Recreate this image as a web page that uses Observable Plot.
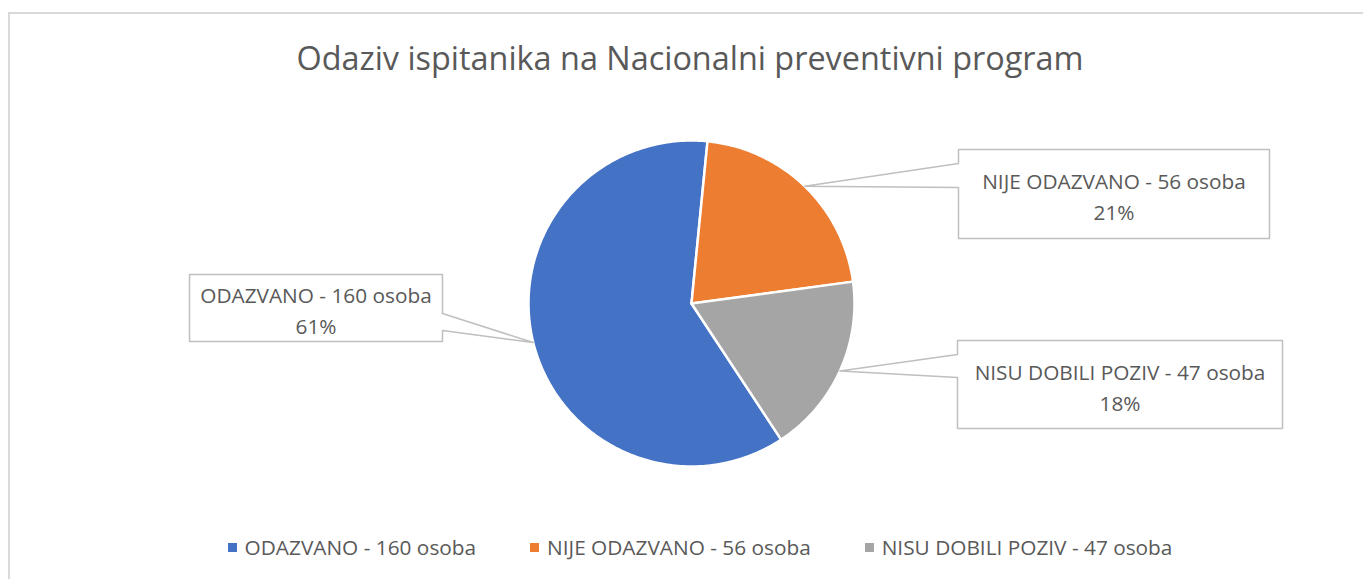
<!DOCTYPE html>
<html>
<head>
<meta charset="utf-8">
<script src="https://cdn.jsdelivr.net/npm/d3@7"></script>
<script src="https://cdn.jsdelivr.net/npm/@observablehq/plot@0.6"></script>
<style>
  html, body { margin: 0; padding: 0; background: #fff; }
  #wrap { position: relative; width: 1363px; height: 579px; overflow: hidden; font-family: "Open Sans", sans-serif; color: #595959; }
  #frame { position: absolute; left: 8px; top: 12px; width: 1400px; height: 620px; border: 2px solid #d9d9d9; box-sizing: border-box; }
  #title { position: absolute; left: 0; top: 35px; width: 1380px; text-align: center; font-size: 32.4px; line-height: 44px; color: #595959; }
  #chart { position: absolute; left: 0; top: 100px; }
  #legend { position: absolute; left: 0; top: 532px; width: 1400px; display: flex; justify-content: center; gap: 54px; font-size: 20.8px; line-height: 30px; }
  .item { display: flex; align-items: center; gap: 8px; }
  .sw { width: 9px; height: 9px; display: inline-block; }
</style>
</head>
<body>
<div id="wrap">
  <div id="frame"></div>
  <div id="title">Odaziv ispitanika na Nacionalni preventivni program</div>
  <div id="chart"></div>
  <div id="legend"></div>
</div>
<script>
// ---- data ----
const categories = ["ODAZVANO - 160 osoba", "NIJE ODAZVANO - 56 osoba", "NISU DOBILI POZIV - 47 osoba"];
const values = [160, 56, 47];
const percentLabels = ["61%", "21%", "18%"];
const colors = ["#4472C4", "#ED7D31", "#A5A5A5"];

// ---- layout (pixels within the chart svg; pie centre / radius) ----
const W = 1363, H = 420;
const cx = 691, cy = 203, R = 163;
// callout boxes: [left, top, right, bottom], wedge side, wedge y-range
const boxes = [
  {box: [189, 174, 442, 241], side: "right", w: [213, 230]},
  {box: [958, 49, 1269, 138], side: "left", w: [63, 87]},
  {box: [957, 240, 1282, 328], side: "left", w: [254, 277]}
];
const ux = px => (px - cx) / R;
const uy = py => (cy - py) / R;

// pie geometry via d3.pie (angles clockwise from 12 o'clock)
const total = d3.sum(values);
const orangeStart = Math.asin(16 / 163);
const startAngle = orangeStart - 2 * Math.PI * values[0] / total;
const arcs = d3.pie().sort(null).startAngle(startAngle).endAngle(startAngle + 2 * Math.PI)(values);

const slicePts = [];
arcs.forEach((a, i) => {
  slicePts.push({cat: categories[i], x: 0, y: 0});
  const n = Math.max(8, Math.ceil((a.endAngle - a.startAngle) * 60));
  for (let k = 0; k <= n; k++) {
    const t = a.startAngle + (a.endAngle - a.startAngle) * k / n;
    slicePts.push({cat: categories[i], x: Math.sin(t), y: Math.cos(t)});
  }
});

// callout polygons
const calloutPts = [];
const labelRows = [];
arcs.forEach((a, i) => {
  const m = (a.startAngle + a.endAngle) / 2;
  const tip = [Math.sin(m), Math.cos(m)];
  const b = boxes[i];
  const [l, t, r, btm] = b.box;
  let poly;
  if (b.side === "left") {
    poly = [[l, t], [r, t], [r, btm], [l, btm], [l, b.w[1]], null, [l, b.w[0]]];
  } else {
    poly = [[l, t], [r, t], [r, b.w[0]], null, [r, b.w[1]], [r, btm], [l, btm]];
  }
  poly.forEach(p => {
    if (p === null) calloutPts.push({id: i, x: tip[0], y: tip[1]});
    else calloutPts.push({id: i, x: ux(p[0]), y: uy(p[1])});
  });
  labelRows.push({x: ux((l + r) / 2), y: uy((t + btm) / 2 + 1), text: categories[i] + "\n" + percentLabels[i]});
});

const plot = Plot.plot({
  width: W, height: H,
  margin: 0,
  x: {domain: [ux(0), ux(W)], axis: null},
  y: {domain: [uy(H), uy(0)], axis: null},
  color: {domain: categories, range: colors},
  marks: [
    Plot.line(slicePts, {x: "x", y: "y", z: "cat", fill: "cat", stroke: "white", strokeWidth: 2.5, curve: "linear-closed"}),
    Plot.line(calloutPts, {x: "x", y: "y", z: "id", fill: "white", stroke: "#bfbfbf", strokeWidth: 1.5, curve: "linear-closed"}),
    Plot.text(labelRows, {x: "x", y: "y", text: "text", fontSize: 20.8, lineHeight: 1.48, fill: "#595959", fontFamily: "Open Sans"})
  ]
});
document.getElementById("chart").appendChild(plot);

// legend
const lg = document.getElementById("legend");
categories.forEach((c, i) => {
  const it = document.createElement("div");
  it.className = "item";
  const sw = document.createElement("span");
  sw.className = "sw";
  sw.style.background = colors[i];
  const tx = document.createElement("span");
  tx.textContent = c;
  it.appendChild(sw); it.appendChild(tx);
  lg.appendChild(it);
});
</script>
</body>
</html>
